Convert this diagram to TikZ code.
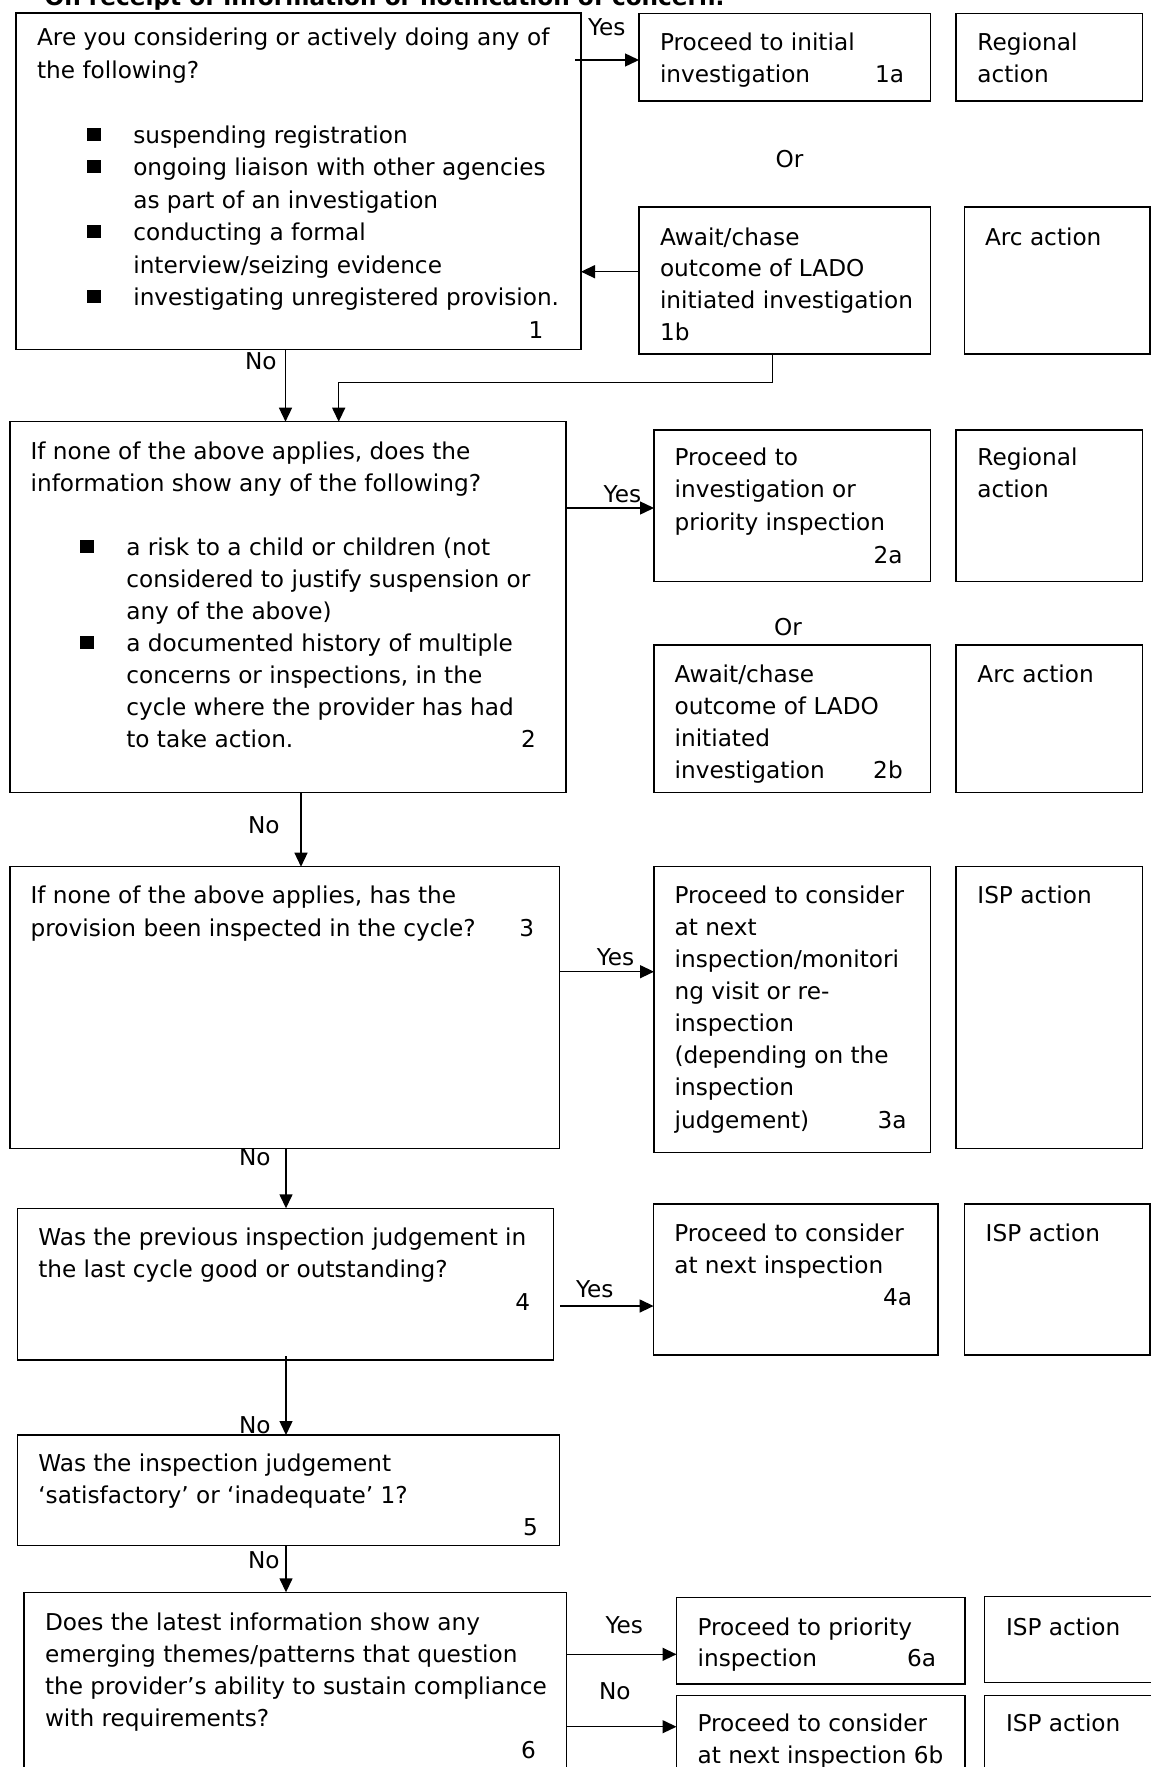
\documentclass[tikz,border=0pt]{standalone}
\usepackage{fontspec}
\setmainfont{DejaVu Sans}
\usetikzlibrary{arrows.meta}
\newcommand{\fs}{\fontsize{23.2pt}{32.3pt}\selectfont}
\newcommand{\sq}{\rule[2.3pt]{13.5pt}{13pt}}
\newcommand{\bl}[2]{\hspace*{#1pt}\makebox[#2pt][l]{\sq}}
\newcommand{\ind}[1]{\hspace*{#1pt}}
\newcommand{\rl}[3]{\makebox[#1pt][l]{#2\hfill #3}}
\newcommand{\tb}[2]{\parbox[t]{760pt}{\raggedright\baselineskip=#1pt\relax #2\par}}
\newcommand{\bx}[5]{\node[box,minimum width={#4-#2},minimum height={#5-#3}] (#1) at (#2,#3) {};}
\begin{document}
\begin{tikzpicture}[x=1pt,y=-1pt,
  box/.style={draw=black,line width=1.4pt,rectangle,inner sep=0pt,outer sep=0pt,anchor=north west},
  txt/.style={anchor=base west,inner sep=0pt,outer sep=0pt,font=\fs},
  lab/.style={anchor=base west,inner sep=0pt,outer sep=0pt,font=\fs},
  orlab/.style={anchor=base,inner sep=0pt,outer sep=0pt,font=\fs},
  arr/.style={line width=1.4pt,-{Triangle[length=14pt,width=13pt]}}]
\useasboundingbox (0,0) rectangle (1151,1767);
\fill[white] (0,0) rectangle (1151,1767);

% title
\node[txt,font=\fs\bfseries] (title) at (44.6,5) {On receipt of information or notification of concern.};

% boxes
\bx{q1}{16}{13}{581}{349.5}
\bx{a1}{639}{13.5}{930.6}{101}
\bx{r1}{956}{13.5}{1142.6}{101}
\bx{b1}{639}{207}{930.6}{354}
\bx{c1}{964.7}{207}{1149.8}{354}
\bx{q2}{10}{421.7}{566}{792.7}
\bx{a2}{654}{430}{930.6}{581.7}
\bx{r2}{956}{430}{1142.6}{581.7}
\bx{b2}{654}{645}{930.6}{792.7}
\bx{c2}{956}{645}{1142.6}{792.7}
\bx{q3}{10}{866.7}{559.5}{1148.3}
\bx{a3}{654}{866.7}{930.6}{1152.7}
\bx{i3}{956}{866.7}{1142.6}{1148.3}
\bx{q4}{17.2}{1208.3}{553.5}{1360}
\bx{a4}{653.6}{1204}{938}{1355}
\bx{i4}{964.3}{1204}{1150}{1355}
\bx{q5}{17.2}{1435}{559.5}{1545.7}
\bx{q6}{24}{1592.3}{566.2}{1800}
\bx{a6}{676.5}{1597.7}{965}{1684}
\bx{i6}{984.3}{1596.7}{1170}{1682.7}
\bx{b6}{676.5}{1695.7}{965}{1800}
\bx{j6}{984.3}{1695.7}{1170}{1800}

% texts
\node[txt] (q1t) at (37.1,45.7) {\tb{32.5}{Are you considering or actively doing any of\\
the following?\\[32.5pt]
\bl{50.3}{45.9}suspending registration\\
\bl{50.3}{45.9}ongoing liaison with other agencies\\
\ind{96.2}as part of an investigation\\
\bl{50.3}{45.9}conducting a formal\\
\ind{96.2}interview/seizing evidence\\
\bl{50.3}{45.9}investigating unregistered provision.\\
\rl{506.4}{}{1}}};
\node[txt] (a1t) at (660,50) {\tb{32}{Proceed to initial\\\rl{244}{investigation}{1a}}};
\node[txt] (r1t) at (977.4,50) {\tb{32}{Regional\\action}};
\node[txt] (b1t) at (660,245) {\tb{31.7}{Await/chase\\outcome of LADO\\initiated investigation\\1b}};
\node[txt] (c1t) at (985,245) {Arc action};

\node[txt] (q2t) at (30.6,459) {\tb{32}{If none of the above applies, does the\\
information show any of the following?\\[32pt]
\bl{49.8}{45.9}a risk to a child or children (not\\
\ind{95.7}considered to justify suspension or\\
\ind{95.7}any of the above)\\
\bl{49.8}{45.9}a documented history of multiple\\
\ind{95.7}concerns or inspections, in the\\
\ind{95.7}cycle where the provider has had\\
\ind{95.7}\rl{409.6}{to take action.}{2}}};
\node[txt] (a2t) at (674.6,465) {\tb{32.7}{Proceed to\\investigation or\\priority inspection\\\rl{228.1}{}{2a}}};
\node[txt] (r2t) at (977.4,465) {\tb{32.7}{Regional\\action}};
\node[txt] (b2t) at (674.6,682) {\tb{32}{Await/chase\\outcome of LADO\\initiated\\\rl{228.1}{investigation}{2b}}};
\node[txt] (c2t) at (977.4,682) {Arc action};

\node[txt] (q3t) at (30.6,903) {\tb{33.5}{If none of the above applies, has the\\\rl{503.4}{provision been inspected in the cycle?}{3}}};
\node[txt] (a3t) at (674.6,903.3) {\tb{32.1}{Proceed to consider\\at next\\inspection/monitori\\ng visit or re-\\inspection\\(depending on the\\inspection\\\rl{231.9}{judgement)}{3a}}};
\node[txt] (i3t) at (977.4,903.3) {ISP action};

\node[txt] (q4t) at (38.3,1245) {\tb{32.5}{Was the previous inspection judgement in\\the last cycle good or outstanding?\\\rl{491.9}{}{4}}};
\node[txt] (a4t) at (674.3,1241.7) {\tb{31.7}{Proceed to consider\\at next inspection\\\rl{237.7}{}{4a}}};
\node[txt] (i4t) at (985.7,1241.7) {ISP action};

\node[txt] (q5t) at (38.3,1471.7) {\tb{31.7}{Was the inspection judgement\\‘satisfactory’ or ‘inadequate’ 1?\\\rl{499.5}{}{5}}};

\node[txt] (q6t) at (45,1630) {\tb{32.1}{Does the latest information show any\\emerging themes/patterns that question\\the provider’s ability to sustain compliance\\with requirements?\\\rl{490.9}{}{6}}};
\node[txt] (a6t) at (697.6,1635) {\tb{31.7}{Proceed to priority\\\rl{238.4}{inspection}{6a}}};
\node[txt] (i6t) at (1006,1635) {ISP action};
\node[txt] (b6t) at (697.6,1731.7) {\tb{31.3}{Proceed to consider\\at next inspection 6b}};
\node[txt] (j6t) at (1006,1731.7) {ISP action};

% labels
\node[lab] (yes1) at (588,35) {Yes};
\node[orlab] (or1) at (789.6,167) {Or};
\node[lab] (no1) at (245,369) {No};
\node[lab] (yes2) at (603.7,502) {Yes};
\node[orlab] (or2) at (788,635) {Or};
\node[lab] (no2) at (248,833) {No};
\node[lab] (yes3) at (596.8,965) {Yes};
\node[lab] (no3) at (239,1165) {No};
\node[lab] (yes4) at (576,1297) {Yes};
\node[lab] (no4) at (239,1433) {No};
\node[lab] (no5) at (248,1568) {No};
\node[lab] (yes6) at (605.6,1633) {Yes};
\node[lab] (no6) at (599,1699) {No};

% guide coordinates
\coordinate (Y1) at (0,60);
\coordinate (Y1b) at (0,271.7);
\coordinate (X1) at (285.5,0);
\coordinate (J1) at (772.3,382.7);
\coordinate (J2) at (338.7,382.7);
\coordinate (Y2) at (0,508);
\coordinate (X2) at (301,0);
\coordinate (Y3) at (0,971.7);
\coordinate (X3) at (286,0);
\coordinate (Y4) at (0,1306);
\coordinate (Y6a) at (0,1654.3);
\coordinate (Y6b) at (0,1726.7);

% connectors
\draw[arr] (q1.east |- Y1) ++(-6,0) -- (a1.west |- Y1);
\draw[arr] (b1.west |- Y1b) -- (q1.east |- Y1b);
\draw[arr] (q1.south -| X1) -- (q2.north -| X1);
\draw[arr] (b1.south -| J1) -- (J1) -- (J2) -- (q2.north -| J2);
\draw[arr] (q2.east |- Y2) -- (a2.west |- Y2);
\draw[arr] (q2.south -| X2) -- (q3.north -| X2);
\draw[arr] (q3.east |- Y3) -- (a3.west |- Y3);
\draw[arr] (q3.south -| X3) -- (q4.north -| X3);
\draw[arr] (q4.east |- Y4) ++(6.5,0) -- (a4.west |- Y4);
\draw[arr] (q4.south -| X3) ++(0,-4) -- (q5.north -| X3);
\draw[arr] (q5.south -| X3) -- (q6.north -| X3);
\draw[arr] (q6.east |- Y6a) -- (a6.west |- Y6a);
\draw[arr] (q6.east |- Y6b) -- (b6.west |- Y6b);
\end{tikzpicture}
\end{document}
